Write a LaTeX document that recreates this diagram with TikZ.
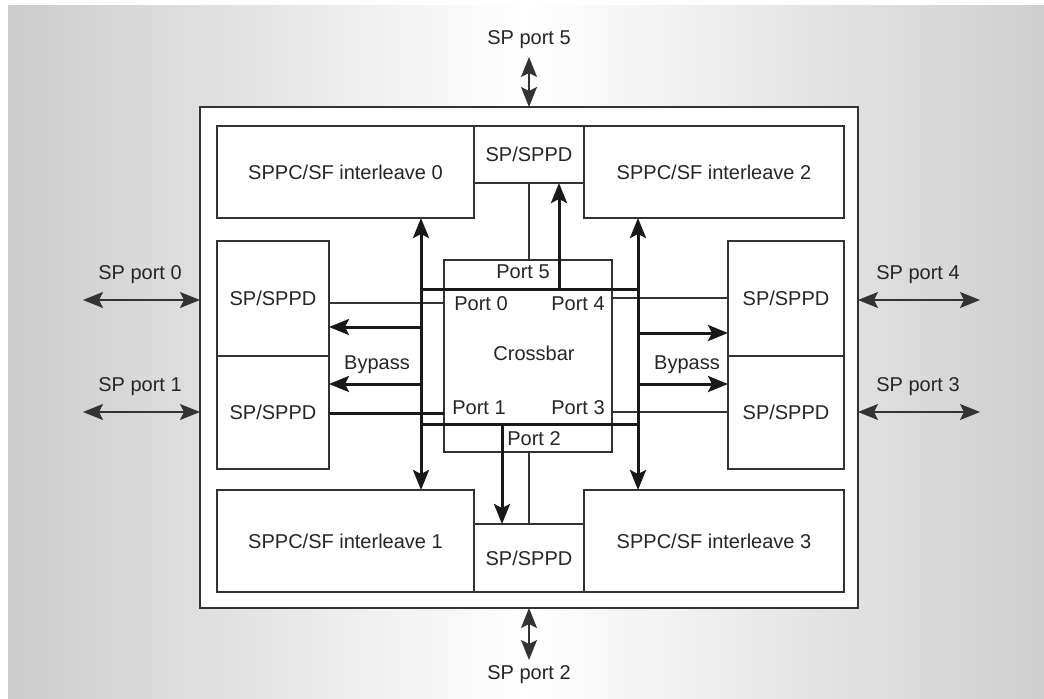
\documentclass[tikz,border=0pt]{standalone}
\usepackage{fontspec}
\setmainfont{Liberation Sans}
\usetikzlibrary{positioning,arrows.meta}

\begin{document}
\begin{tikzpicture}[
    x=0.5pt, y=-0.5pt,
    node distance=0cm,
    outer sep=0pt,
    font=\fontsize{10}{12}\selectfont,
    >={Stealth[length=10pt, width=8pt, inset=2pt]},
    blk/.style={draw=black!80, line width=0.6pt, fill=white, rectangle, inner sep=0pt, align=center, text=black!85},
    txt/.style={inner sep=0pt, text=black!85},
    link/.style={draw=black!80, line width=0.6pt},
    bus/.style={draw=black!90, line width=1.5pt}
]
    \useasboundingbox (0,0) rectangle (1044,698);
    \fill[left color=gray!40, right color=gray!38, middle color=white] (8,5) rectangle (1044,698);

    % chip outline
    \node [blk, minimum width=329pt, minimum height=250.5pt] (chip) at (529,357.5) {};

    % top row
    \node [blk, minimum width=128.5pt, minimum height=46pt] (il0) at (345.5,172) {SPPC/SF interleave 0};
    \node [blk, minimum width=55pt, minimum height=28.5pt, anchor=north west] (spT) at (il0.north east) {SP/SPPD};
    \node [blk, minimum width=130pt, minimum height=46pt, anchor=north west] (il2) at (spT.north east) {SPPC/SF interleave 2};

    % bottom row
    \node [blk, minimum width=128.5pt, minimum height=51pt] (il1) at (345.5,541) {SPPC/SF interleave 1};
    \node [blk, minimum width=55pt, minimum height=34pt, anchor=south west] (spB) at (il1.south east) {SP/SPPD};
    \node [blk, minimum width=130pt, minimum height=51pt, anchor=south west] (il3) at (spB.south east) {SPPC/SF interleave 3};

    % side ports
    \node [blk, minimum width=56pt, minimum height=57.5pt] (spL0) at (273,298.5) {SP/SPPD};
    \node [blk, minimum width=56pt, minimum height=56.5pt, below=of spL0] (spL1) {SP/SPPD};
    \node [blk, minimum width=58pt, minimum height=57.5pt] (spR0) at (786,298.5) {SP/SPPD};
    \node [blk, minimum width=58pt, minimum height=56.5pt, below=of spR0] (spR1) {SP/SPPD};

    % crossbar
    \node [blk, minimum width=84pt, minimum height=96pt] (xbar) at (528,356) {};
    \node [txt] (xbarlbl) at (534,353) {Crossbar};
    \node [txt] (xp5) at (523,272) {Port 5};
    \node [txt] (xp0) at (481,304) {Port 0};
    \node [txt] (xp4) at (578,304) {Port 4};
    \node [txt] (xp1) at (479,408) {Port 1};
    \node [txt] (xp3) at (578,408) {Port 3};
    \node [txt] (xp2) at (534,439) {Port 2};

    % bus coordinates
    \coordinate (busL) at (421,357);
    \coordinate (busR) at (638,357);
    \coordinate (busT) at (529,289);
    \coordinate (busB) at (529,424);
    \coordinate (up) at (559,289);
    \coordinate (dn) at (502,424);

    % thin links
    \draw [link] (spT.south) -- (spT.south |- xbar.north);
    \draw [link] (spB.north |- xbar.south) -- (spB.north);
    \draw [link] (spL0.east |- 0,303) -- (xbar.west |- 0,303);
    \draw [link] (xbar.east |- 0,298) -- (spR0.west |- 0,298);
    \draw [link] (xbar.east |- 0,412) -- (spR1.west |- 0,412);

    % buses
    \draw [bus, <->] (il0.south -| busL) -- (il1.north -| busL);
    \draw [bus, <->] (il2.south -| busR) -- (il3.north -| busR);
    \draw [bus] (busL |- busT) -- (busR |- busT);
    \draw [bus] (busL |- busB) -- (busR |- busB);
    \draw [bus, ->] (up) -- (up |- spT.south);
    \draw [bus, ->] (dn) -- (dn |- spB.north);
    \draw [bus] (spL1.east |- 0,413) -- (xbar.west |- 0,413);

    % bypass
    \draw [bus, ->] (busL |- 0,327) -- (spL0.east |- 0,327);
    \draw [bus, ->] (busL |- 0,384) -- (spL1.east |- 0,384);
    \draw [bus, ->] (busR |- 0,333) -- (spR0.west |- 0,333);
    \draw [bus, ->] (busR |- 0,384) -- (spR1.west |- 0,384);
    \node [txt] (bypL) at (377,365) {Bypass};
    \node [txt] (bypR) at (687,365) {Bypass};

    % external SP ports
    \coordinate (p5) at (529,57);
    \coordinate (p2) at (529,660);
    \coordinate (p0) at (83,300);
    \coordinate (p1) at (83,412);
    \coordinate (p4) at (980,300);
    \coordinate (p3) at (980,412);
    \draw [link, <->] (p5) -- (chip.north);
    \draw [link, <->] (chip.south) -- (p2);
    \draw [link, <->] (p0) -- (p0 -| chip.west);
    \draw [link, <->] (p1) -- (p1 -| chip.west);
    \draw [link, <->] (p4 -| chip.east) -- (p4);
    \draw [link, <->] (p3 -| chip.east) -- (p3);
    \node [txt] (lp5) at (529,40) {SP port 5};
    \node [txt] (lp2) at (529,675) {SP port 2};
    \node [txt] (lp0) at (140,275) {SP port 0};
    \node [txt] (lp1) at (140,387) {SP port 1};
    \node [txt] (lp4) at (918,275) {SP port 4};
    \node [txt] (lp3) at (918,387) {SP port 3};
\end{tikzpicture}
\end{document}
